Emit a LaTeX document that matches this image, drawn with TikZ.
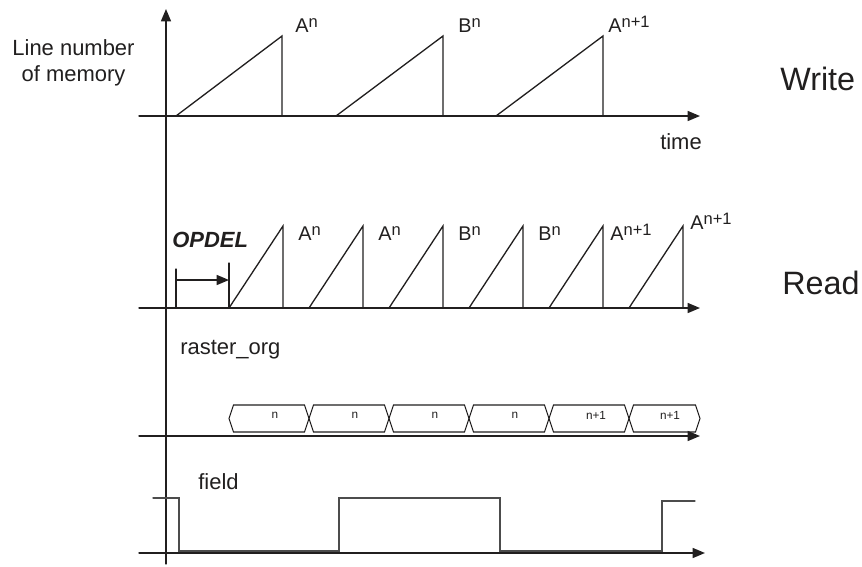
\documentclass[tikz,border=0pt]{standalone}
\usepackage{fontspec}
\setmainfont{Liberation Sans}
\usepackage{tkz-euclide}
\usetikzlibrary{arrows.meta}
\definecolor{InkClr}{rgb}{0.13,0.12,0.12}
\definecolor{SigClr}{rgb}{0.3,0.3,0.3}
\newcommand{\lblsup}[1]{\raisebox{3pt}{\fontsize{9.4}{10}\selectfont #1}}

\begin{document}
\begin{tikzpicture}[scale=.2,
  timeaxis/.style={line width=.75pt,color=InkClr,-{Triangle[length=7pt,width=5.7pt]}},
  txt/.style={font=\fontsize{12.5}{15}\selectfont,text=InkClr,inner sep=0pt},
  big/.style={font=\fontsize{18.4}{22}\selectfont,text=InkClr,inner sep=0pt,anchor=base west},
  rlbl/.style={font=\fontsize{11.3}{13}\selectfont,text=InkClr,inner sep=0pt,anchor=base west},
  slot/.style={line width=.6pt,color=InkClr},
  slotlbl/.style={font=\fontsize{6.7}{8}\selectfont,text=InkClr,inner sep=0pt}]
\tkzSetUpLine[line width=.75pt,color=InkClr]
\useasboundingbox (0,0) rectangle (86.2,56.6);

\tkzDefPoints{16.6/0.2/O,16.6/55.7/Y,
  13.9/45/W0,70/45/W1,13.9/25.8/R0,70/25.8/R1,
  13.9/13/S0,70/13/S1,13.9/1.3/F0,70.5/1.3/F1}
% write ramps
\tkzDefPoints{17.6/45/w1s,28.2/53/w1t,28.2/45/w1e,
  33.6/45/w2s,44.3/53/w2t,44.3/45/w2e,
  49.6/45/w3s,60.3/53/w3t,60.3/45/w3e}
% read ramps
\tkzDefPoints{22.9/25.8/r1s,28.3/34/r1t,28.3/25.8/r1e,
  30.9/25.8/r2s,36.3/34/r2t,36.3/25.8/r2e,
  38.9/25.8/r3s,44.3/34/r3t,44.3/25.8/r3e,
  46.9/25.8/r4s,52.3/34/r4t,52.3/25.8/r4e,
  54.9/25.8/r5s,60.3/34/r5t,60.3/25.8/r5e,
  62.9/25.8/r6s,68.3/34/r6t,68.3/25.8/r6e}
\tkzDefPoints{17.6/29.7/d0,17.6/25.8/d1,22.9/30.3/d2,17.6/28.6/d3,22.9/28.6/d4}
% field
\tkzDefPoints{15.3/6.8/f0,17.9/6.8/f1,17.9/1.5/f2,33.9/1.5/f3,33.9/6.8/f4,
  50/6.8/f5,50/1.5/f6,66.2/1.5/f7,66.2/6.5/f8,69.5/6.5/f9}

\tkzDrawSegments[timeaxis](O,Y W0,W1 R0,R1 S0,S1 F0,F1)

\tkzDrawPolySeg(w1s,w1t,w1e)
\tkzDrawPolySeg(w2s,w2t,w2e)
\tkzDrawPolySeg(w3s,w3t,w3e)

\tkzDrawPolySeg(r1s,r1t,r1e)
\tkzDrawPolySeg(r2s,r2t,r2e)
\tkzDrawPolySeg(r3s,r3t,r3e)
\tkzDrawPolySeg(r4s,r4t,r4e)
\tkzDrawPolySeg(r5s,r5t,r5e)
\tkzDrawPolySeg(r6s,r6t,r6e)

\tkzDrawSegments(d0,d1 d2,r1s)
\tkzDrawSegment[-{Triangle[length=7pt,width=5.7pt]}](d3,d4)

\tkzDrawPolySeg[color=SigClr](f0,f1,f2,f3,f4,f5,f6,f7,f8,f9)

% raster_org slots
\draw[slot] (22.9,14.75)--(23.35,16.1)--(30.45,16.1)--(30.9,14.75)--(30.45,13.4)--(23.35,13.4)--cycle;
\draw[slot] (30.9,14.75)--(31.35,16.1)--(38.45,16.1)--(38.9,14.75)--(38.45,13.4)--(31.35,13.4)--cycle;
\draw[slot] (38.9,14.75)--(39.35,16.1)--(46.45,16.1)--(46.9,14.75)--(46.45,13.4)--(39.35,13.4)--cycle;
\draw[slot] (46.9,14.75)--(47.35,16.1)--(54.45,16.1)--(54.9,14.75)--(54.45,13.4)--(47.35,13.4)--cycle;
\draw[slot] (54.9,14.75)--(55.35,16.1)--(62.45,16.1)--(62.9,14.75)--(62.45,13.4)--(55.35,13.4)--cycle;
\draw[slot] (62.9,14.75)--(63.35,16.1)--(69.55,16.1)--(70,14.75)--(69.55,13.4)--(63.35,13.4)--cycle;
\node[slotlbl] (s1) at (27.5,15.1) {n};
\node[slotlbl] (s2) at (35.5,15.1) {n};
\node[slotlbl] (s3) at (43.5,15.1) {n};
\node[slotlbl] (s4) at (51.5,15.1) {n};
\node[slotlbl] (s5) at (59.6,15.1) {n+1};
\node[slotlbl] (s6) at (67,15.1) {n+1};

\node[rlbl] (wA) at (29.5,53.3) {A\lblsup{n}};
\node[rlbl] (wB) at (45.8,53.3) {B\lblsup{n}};
\node[rlbl] (wA1) at (60.8,53.3) {A\lblsup{n+1}};
\node[rlbl] (rA) at (29.8,32.5) {A\lblsup{n}};
\node[rlbl] (rA2) at (37.8,32.5) {A\lblsup{n}};
\node[rlbl] (rB) at (45.8,32.5) {B\lblsup{n}};
\node[rlbl] (rB2) at (53.8,32.5) {B\lblsup{n}};
\node[rlbl] (rA3) at (61,32.5) {A\lblsup{n+1}};
\node[rlbl] (rA4) at (69,33.6) {A\lblsup{n+1}};

\node[txt,align=center] (lnum) at (7.35,50.3) {Line number\\of memory};
\node[txt] (tme) at (68.1,42.4) {time};
\node[big] (wrt) at (78,47.5) {Write};
\node[big] (rd) at (78.2,27.1) {Read};
\node[txt,anchor=base west,font=\fontsize{12.5}{15}\selectfont\bfseries\itshape] (opd) at (17.2,31.8) {OPDEL};
\node[txt,anchor=base west] (rorg) at (18,21.1) {raster\_org};
\node[txt,anchor=base west] (fld) at (19.8,7.7) {field};

\end{tikzpicture}
\end{document}
